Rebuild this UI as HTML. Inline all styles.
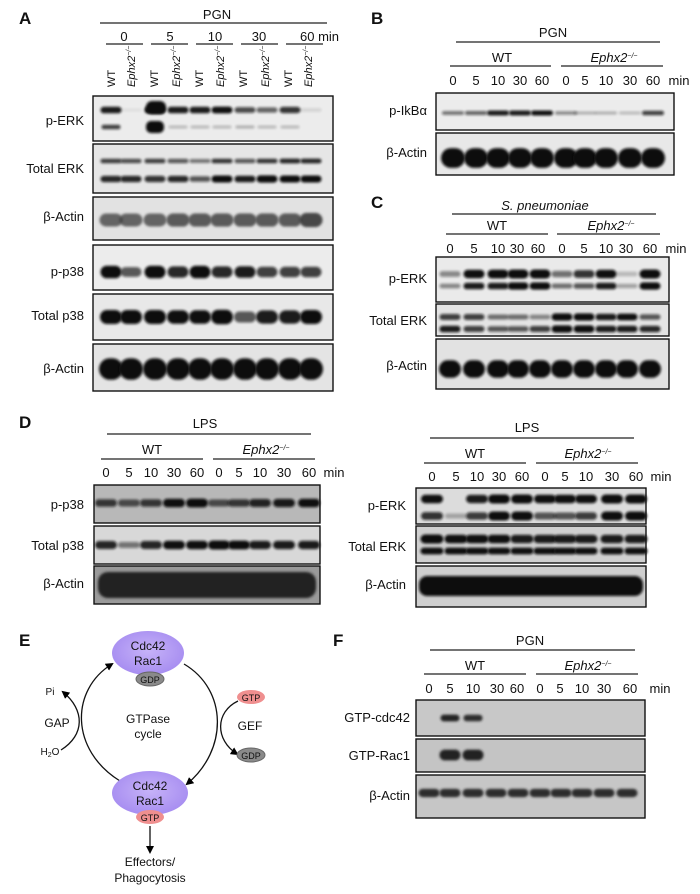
<!DOCTYPE html>
<html><head><meta charset="utf-8"><style>
html,body{margin:0;padding:0;background:#fff}
svg{display:block}
text{font-family:"Liberation Sans",Arial,sans-serif;fill:#111}
.t{font-size:13px}
.s{font-size:11px}
.L{font-size:17px;font-weight:bold}
.i{font-style:italic}
</style></head><body>
<svg id="s" width="700" height="894" viewBox="0 0 700 894" xmlns="http://www.w3.org/2000/svg">
<defs>
<filter id="b" x="-20%" y="-100%" width="140%" height="300%"><feGaussianBlur stdDeviation="1.2"/></filter>
<radialGradient id="pu" cx="50%" cy="45%" r="60%"><stop offset="0" stop-color="#c6b2f8"/><stop offset="1" stop-color="#a48af0"/></radialGradient>
<marker id="ar" markerWidth="8" markerHeight="8" refX="6" refY="4" orient="auto" markerUnits="userSpaceOnUse"><path d="M0,0 L8,4 L0,8 z" fill="#000"/></marker>
</defs>
<g id="blots"></g>
<g stroke="#222" stroke-width="1.3">
<line x1="100" y1="23" x2="327" y2="23"/>
<line x1="106" y1="44" x2="143" y2="44"/><line x1="151" y1="44" x2="188" y2="44"/><line x1="196" y1="44" x2="233" y2="44"/><line x1="241" y1="44" x2="278" y2="44"/><line x1="286" y1="44" x2="323" y2="44"/>
<line x1="456" y1="42" x2="660" y2="42"/><line x1="450" y1="66" x2="551" y2="66"/><line x1="561" y1="66" x2="663" y2="66"/>
<line x1="452" y1="214" x2="656" y2="214"/><line x1="446" y1="234" x2="548" y2="234"/><line x1="557" y1="234" x2="660" y2="234"/>
<line x1="107" y1="434" x2="311" y2="434"/><line x1="101" y1="459" x2="203" y2="459"/><line x1="213" y1="459" x2="315" y2="459"/>
<line x1="430" y1="438" x2="634" y2="438"/><line x1="424" y1="463" x2="526" y2="463"/><line x1="536" y1="463" x2="638" y2="463"/>
<line x1="430" y1="650" x2="635" y2="650"/><line x1="424" y1="674" x2="526" y2="674"/><line x1="536" y1="674" x2="638" y2="674"/>
</g>
<text class="L" x="19" y="24">A</text><text class="L" x="371" y="24">B</text><text class="L" x="371" y="208">C</text>
<text class="L" x="19" y="428">D</text><text class="L" x="19" y="646">E</text><text class="L" x="333" y="646">F</text>
<text class="t" x="217" y="19" text-anchor="middle">PGN</text>
<g class="t" text-anchor="middle"><text x="124" y="41">0</text><text x="170" y="41">5</text><text x="215" y="41">10</text><text x="259" y="41">30</text></g>
<text class="t" x="300" y="41">60 min</text>
<g class="s">
<text transform="translate(115,87) rotate(-90)">WT</text><text class="i" transform="translate(135,87) rotate(-90)">Ephx2<tspan font-size="7" dy="-4">−/−</tspan></text>
<text transform="translate(158,87) rotate(-90)">WT</text><text class="i" transform="translate(180,87) rotate(-90)">Ephx2<tspan font-size="7" dy="-4">−/−</tspan></text>
<text transform="translate(203,87) rotate(-90)">WT</text><text class="i" transform="translate(224,87) rotate(-90)">Ephx2<tspan font-size="7" dy="-4">−/−</tspan></text>
<text transform="translate(247,87) rotate(-90)">WT</text><text class="i" transform="translate(269,87) rotate(-90)">Ephx2<tspan font-size="7" dy="-4">−/−</tspan></text>
<text transform="translate(292,87) rotate(-90)">WT</text><text class="i" transform="translate(312,87) rotate(-90)">Ephx2<tspan font-size="7" dy="-4">−/−</tspan></text>
</g>
<g class="t" text-anchor="end">
<text x="84" y="125">p-ERK</text><text x="84" y="173">Total ERK</text><text x="84" y="221">β-Actin</text>
<text x="84" y="276">p-p38</text><text x="84" y="320">Total p38</text><text x="84" y="373">β-Actin</text>
<text x="427" y="115">p-IkBα</text><text x="427" y="157">β-Actin</text>
<text x="427" y="283">p-ERK</text><text x="427" y="325">Total ERK</text><text x="427" y="370">β-Actin</text>
<text x="84" y="509">p-p38</text><text x="84" y="550">Total p38</text><text x="84" y="588">β-Actin</text>
<text x="406" y="510">p-ERK</text><text x="406" y="551">Total ERK</text><text x="406" y="589">β-Actin</text>
<text x="410" y="722">GTP-cdc42</text><text x="410" y="760">GTP-Rac1</text><text x="410" y="800">β-Actin</text>
</g>
<text class="t" x="553" y="37" text-anchor="middle">PGN</text>
<text class="t" x="502" y="62" text-anchor="middle">WT</text>
<text class="t i" x="614" y="62" text-anchor="middle">Ephx2<tspan font-size="7" dy="-4">−/−</tspan></text>
<text class="t i" x="545" y="210" text-anchor="middle">S. pneumoniae</text>
<text class="t" x="497" y="230" text-anchor="middle">WT</text>
<text class="t i" x="611" y="230" text-anchor="middle">Ephx2<tspan font-size="7" dy="-4">−/−</tspan></text>
<text class="t" x="205" y="428" text-anchor="middle">LPS</text>
<text class="t" x="152" y="454" text-anchor="middle">WT</text>
<text class="t i" x="266" y="454" text-anchor="middle">Ephx2<tspan font-size="7" dy="-4">−/−</tspan></text>
<text class="t" x="527" y="432" text-anchor="middle">LPS</text>
<text class="t" x="475" y="458" text-anchor="middle">WT</text>
<text class="t i" x="588" y="458" text-anchor="middle">Ephx2<tspan font-size="7" dy="-4">−/−</tspan></text>
<text class="t" x="530" y="645" text-anchor="middle">PGN</text>
<text class="t" x="475" y="670" text-anchor="middle">WT</text>
<text class="t i" x="588" y="670" text-anchor="middle">Ephx2<tspan font-size="7" dy="-4">−/−</tspan></text>
<g class="t" text-anchor="middle">
<text x="453" y="85">0</text><text x="476" y="85">5</text><text x="498" y="85">10</text><text x="520" y="85">30</text><text x="542" y="85">60</text><text x="566" y="85">0</text><text x="585" y="85">5</text><text x="606" y="85">10</text><text x="630" y="85">30</text><text x="653" y="85">60</text><text x="679" y="85">min</text>
<text x="450" y="253">0</text><text x="474" y="253">5</text><text x="498" y="253">10</text><text x="517" y="253">30</text><text x="538" y="253">60</text><text x="562" y="253">0</text><text x="584" y="253">5</text><text x="606" y="253">10</text><text x="626" y="253">30</text><text x="650" y="253">60</text><text x="676" y="253">min</text>
<text x="106" y="477">0</text><text x="129" y="477">5</text><text x="151" y="477">10</text><text x="174" y="477">30</text><text x="197" y="477">60</text><text x="219" y="477">0</text><text x="239" y="477">5</text><text x="260" y="477">10</text><text x="284" y="477">30</text><text x="309" y="477">60</text><text x="334" y="477">min</text>
<text x="432" y="481">0</text><text x="456" y="481">5</text><text x="477" y="481">10</text><text x="499" y="481">30</text><text x="522" y="481">60</text><text x="545" y="481">0</text><text x="565" y="481">5</text><text x="586" y="481">10</text><text x="612" y="481">30</text><text x="636" y="481">60</text><text x="661" y="481">min</text>
<text x="429" y="693">0</text><text x="450" y="693">5</text><text x="473" y="693">10</text><text x="497" y="693">30</text><text x="517" y="693">60</text><text x="540" y="693">0</text><text x="560" y="693">5</text><text x="582" y="693">10</text><text x="604" y="693">30</text><text x="630" y="693">60</text><text x="660" y="693">min</text>
</g>
<g fill="none" stroke="#111" stroke-width="1.3">
<path d="M120,781 C70,750 70,690 112,664" marker-end="url(#ar)"/>
<path d="M184,664 C228,690 228,750 187,784" marker-end="url(#ar)"/>
<path d="M61,750 C85,735 85,710 63,692" marker-end="url(#ar)"/>
<path d="M238,701 C215,712 215,740 237,754" marker-end="url(#ar)"/>
<path d="M150,826 L150,852" marker-end="url(#ar)"/>
</g>
<ellipse cx="148" cy="653" rx="36" ry="22" fill="url(#pu)"/>
<ellipse cx="150" cy="679" rx="14" ry="7" fill="#8a8a8a" stroke="#666"/>
<ellipse cx="150" cy="793" rx="38" ry="22" fill="url(#pu)"/>
<ellipse cx="150" cy="817" rx="14" ry="7" fill="#ef8f8f"/>
<ellipse cx="251" cy="697" rx="14" ry="7" fill="#ef8f8f"/>
<ellipse cx="251" cy="755" rx="14" ry="7" fill="#8a8a8a" stroke="#666"/>
<g text-anchor="middle" font-size="12">
<text x="148" y="650" fill="#2a1a5a">Cdc42</text><text x="148" y="665" fill="#2a1a5a">Rac1</text>
<text x="150" y="790" fill="#2a1a5a">Cdc42</text><text x="150" y="805" fill="#2a1a5a">Rac1</text>
<text x="150" y="683" font-size="9" fill="#222">GDP</text>
<text x="150" y="821" font-size="9" fill="#6a1010">GTP</text>
<text x="251" y="701" font-size="9" fill="#6a1010">GTP</text>
<text x="251" y="759" font-size="9" fill="#222">GDP</text>
<text x="148" y="723">GTPase</text><text x="148" y="738">cycle</text>
<text x="57" y="727">GAP</text><text x="250" y="730">GEF</text>
<text x="50" y="695" font-size="10">Pi</text>
<text x="50" y="755" font-size="10">H<tspan font-size="7" dy="2">2</tspan><tspan dy="-2">O</tspan></text>
<text x="150" y="866">Effectors/</text><text x="150" y="882">Phagocytosis</text>
</g>
</svg>
<script>
var NS="http://www.w3.org/2000/svg",G=document.getElementById("blots");
function el(n,a){var e=document.createElementNS(NS,n);for(var k in a)e.setAttribute(k,a[k]);G.appendChild(e);return e;}
function blot(x1,y1,x2,y2,bg){el("rect",{x:x1,y:y1,width:x2-x1,height:y2-y1,fill:bg,stroke:"#111","stroke-width":1.4});}
function bands(lx,y,w,h,ints,col){w+=2;h*=1.5;for(var i=0;i<lx.length;i++){var v=ints[i];if(v<=0.02)continue;var hh=h*(0.5+0.7*v);
el("rect",{x:lx[i]-w/2,y:y-hh/2,width:w,height:hh,rx:hh/2,fill:col||"#111",opacity:Math.min(1,v*1.1),filter:"url(#b)"});}}
function rep(v){return [v,v,v,v,v,v,v,v,v,v];}
var A=[111,131,155,178,200,222,245,267,290,311];
blot(93,96,333,141,"#ececec");blot(93,144,333,193,"#e6e6e6");blot(93,197,333,240,"#e2e2e2");
blot(93,245,333,290,"#ececec");blot(93,294,333,340,"#e8e8e8");blot(93,344,333,391,"#e4e4e4");
bands(A,110,19,4,[0.85,0.05,1,0.85,0.85,0.9,0.65,0.55,0.75,0.1]);
el("rect",{x:146,y:101,width:20,height:13,rx:6,fill:"#111",filter:"url(#b)"});
el("rect",{x:146,y:121,width:18,height:12,rx:5,fill:"#111",filter:"url(#b)"});
bands(A,127,17,3,[0.7,0,0,0.2,0.2,0.2,0.25,0.2,0.2,0]);
bands(A,161,19,3,[0.7,0.65,0.7,0.6,0.5,0.75,0.6,0.75,0.8,0.8]);
bands(A,179,19,4,[0.8,0.8,0.75,0.8,0.6,0.95,0.85,1,0.95,0.95]);
bands(A,220,21,9,[0.65,0.65,0.65,0.7,0.7,0.7,0.7,0.7,0.7,0.8],"#333");
bands(A,272,19,7,[1,0.6,1,0.8,1,0.8,0.85,0.7,0.7,0.7]);
bands(A,317,20,8,[0.95,0.95,0.95,0.9,0.9,1,0.6,0.85,0.85,0.95]);
bands(A,369,22,12,rep(1));
var B=[453,476,498,520,542,566,585,606,630,653];
blot(436,93,674,130,"#ececec");blot(436,133,674,175,"#e8e8e8");
bands(B,113,20,3,[0.5,0.55,0.85,0.85,0.9,0.4,0.25,0.25,0.2,0.7]);
bands(B,158,22,11,rep(1));
var C=[450,474,498,518,540,562,584,606,627,650];
blot(436,257,669,302,"#eaeaea");blot(436,304,669,336,"#e4e4e4");blot(436,339,669,389,"#e2e2e2");
bands(C,274,19,5,[0.4,0.9,0.95,1,1,0.5,0.75,0.9,0.2,1]);
bands(C,286,19,4,[0.4,0.85,0.85,1,1,0.5,0.6,0.85,0.3,1]);
bands(C,317,19,4,[0.7,0.7,0.5,0.5,0.4,1,1,0.85,0.9,0.6]);
bands(C,329,19,4,[0.85,0.7,0.6,0.6,0.7,1,1,0.85,0.85,0.8]);
bands(C,369,20,10,rep(0.95));
var DL=[106,129,151,174,197,219,239,260,284,309];
blot(94,485,320,523,"#b8b8b8");blot(94,526,320,564,"#d8d8d8");blot(94,566,320,604,"#9a9a9a");
bands(DL,503,20,5,[0.7,0.6,0.7,0.9,0.95,0.6,0.7,0.8,0.85,0.9]);
bands(DL,545,20,5,[0.8,0.45,0.8,0.9,0.9,1,0.95,0.85,0.85,0.85]);
el("rect",{x:98,y:572,width:218,height:26,rx:10,fill:"#222",filter:"url(#b)"});
var DR=[432,456,477,499,522,545,565,586,612,636];
blot(416,488,646,524,"#dcdcdc");blot(416,526,646,563,"#d0d0d0");blot(416,566,646,607,"#cfcfcf");
bands(DR,499,20,5,[0.9,0,0.85,1,1,0.9,0.9,0.9,1,1]);
bands(DR,516,20,5,[0.75,0.25,0.7,1,1,0.6,0.6,0.7,1,1]);
bands(DR,539,21,5,[1,0.9,0.9,0.9,0.85,0.85,0.85,0.85,0.85,0.85]);
bands(DR,551,21,4,rep(0.9));
el("rect",{x:419,y:576,width:224,height:20,rx:8,fill:"#111",filter:"url(#b)"});
var F=[429,450,473,496,518,540,561,582,604,627];
blot(416,700,645,736,"#c8c8c8");blot(416,739,645,772,"#c4c4c4");blot(416,775,645,818,"#c6c6c6");
bands(F,718,17,4,[0,0.9,0.85,0,0,0,0,0,0,0],"#222");
bands(F,755,19,6,[0,1,1,0,0,0,0,0,0,0],"#222");
bands(F,793,19,5,rep(0.85),"#222");
</script>
</body></html>
